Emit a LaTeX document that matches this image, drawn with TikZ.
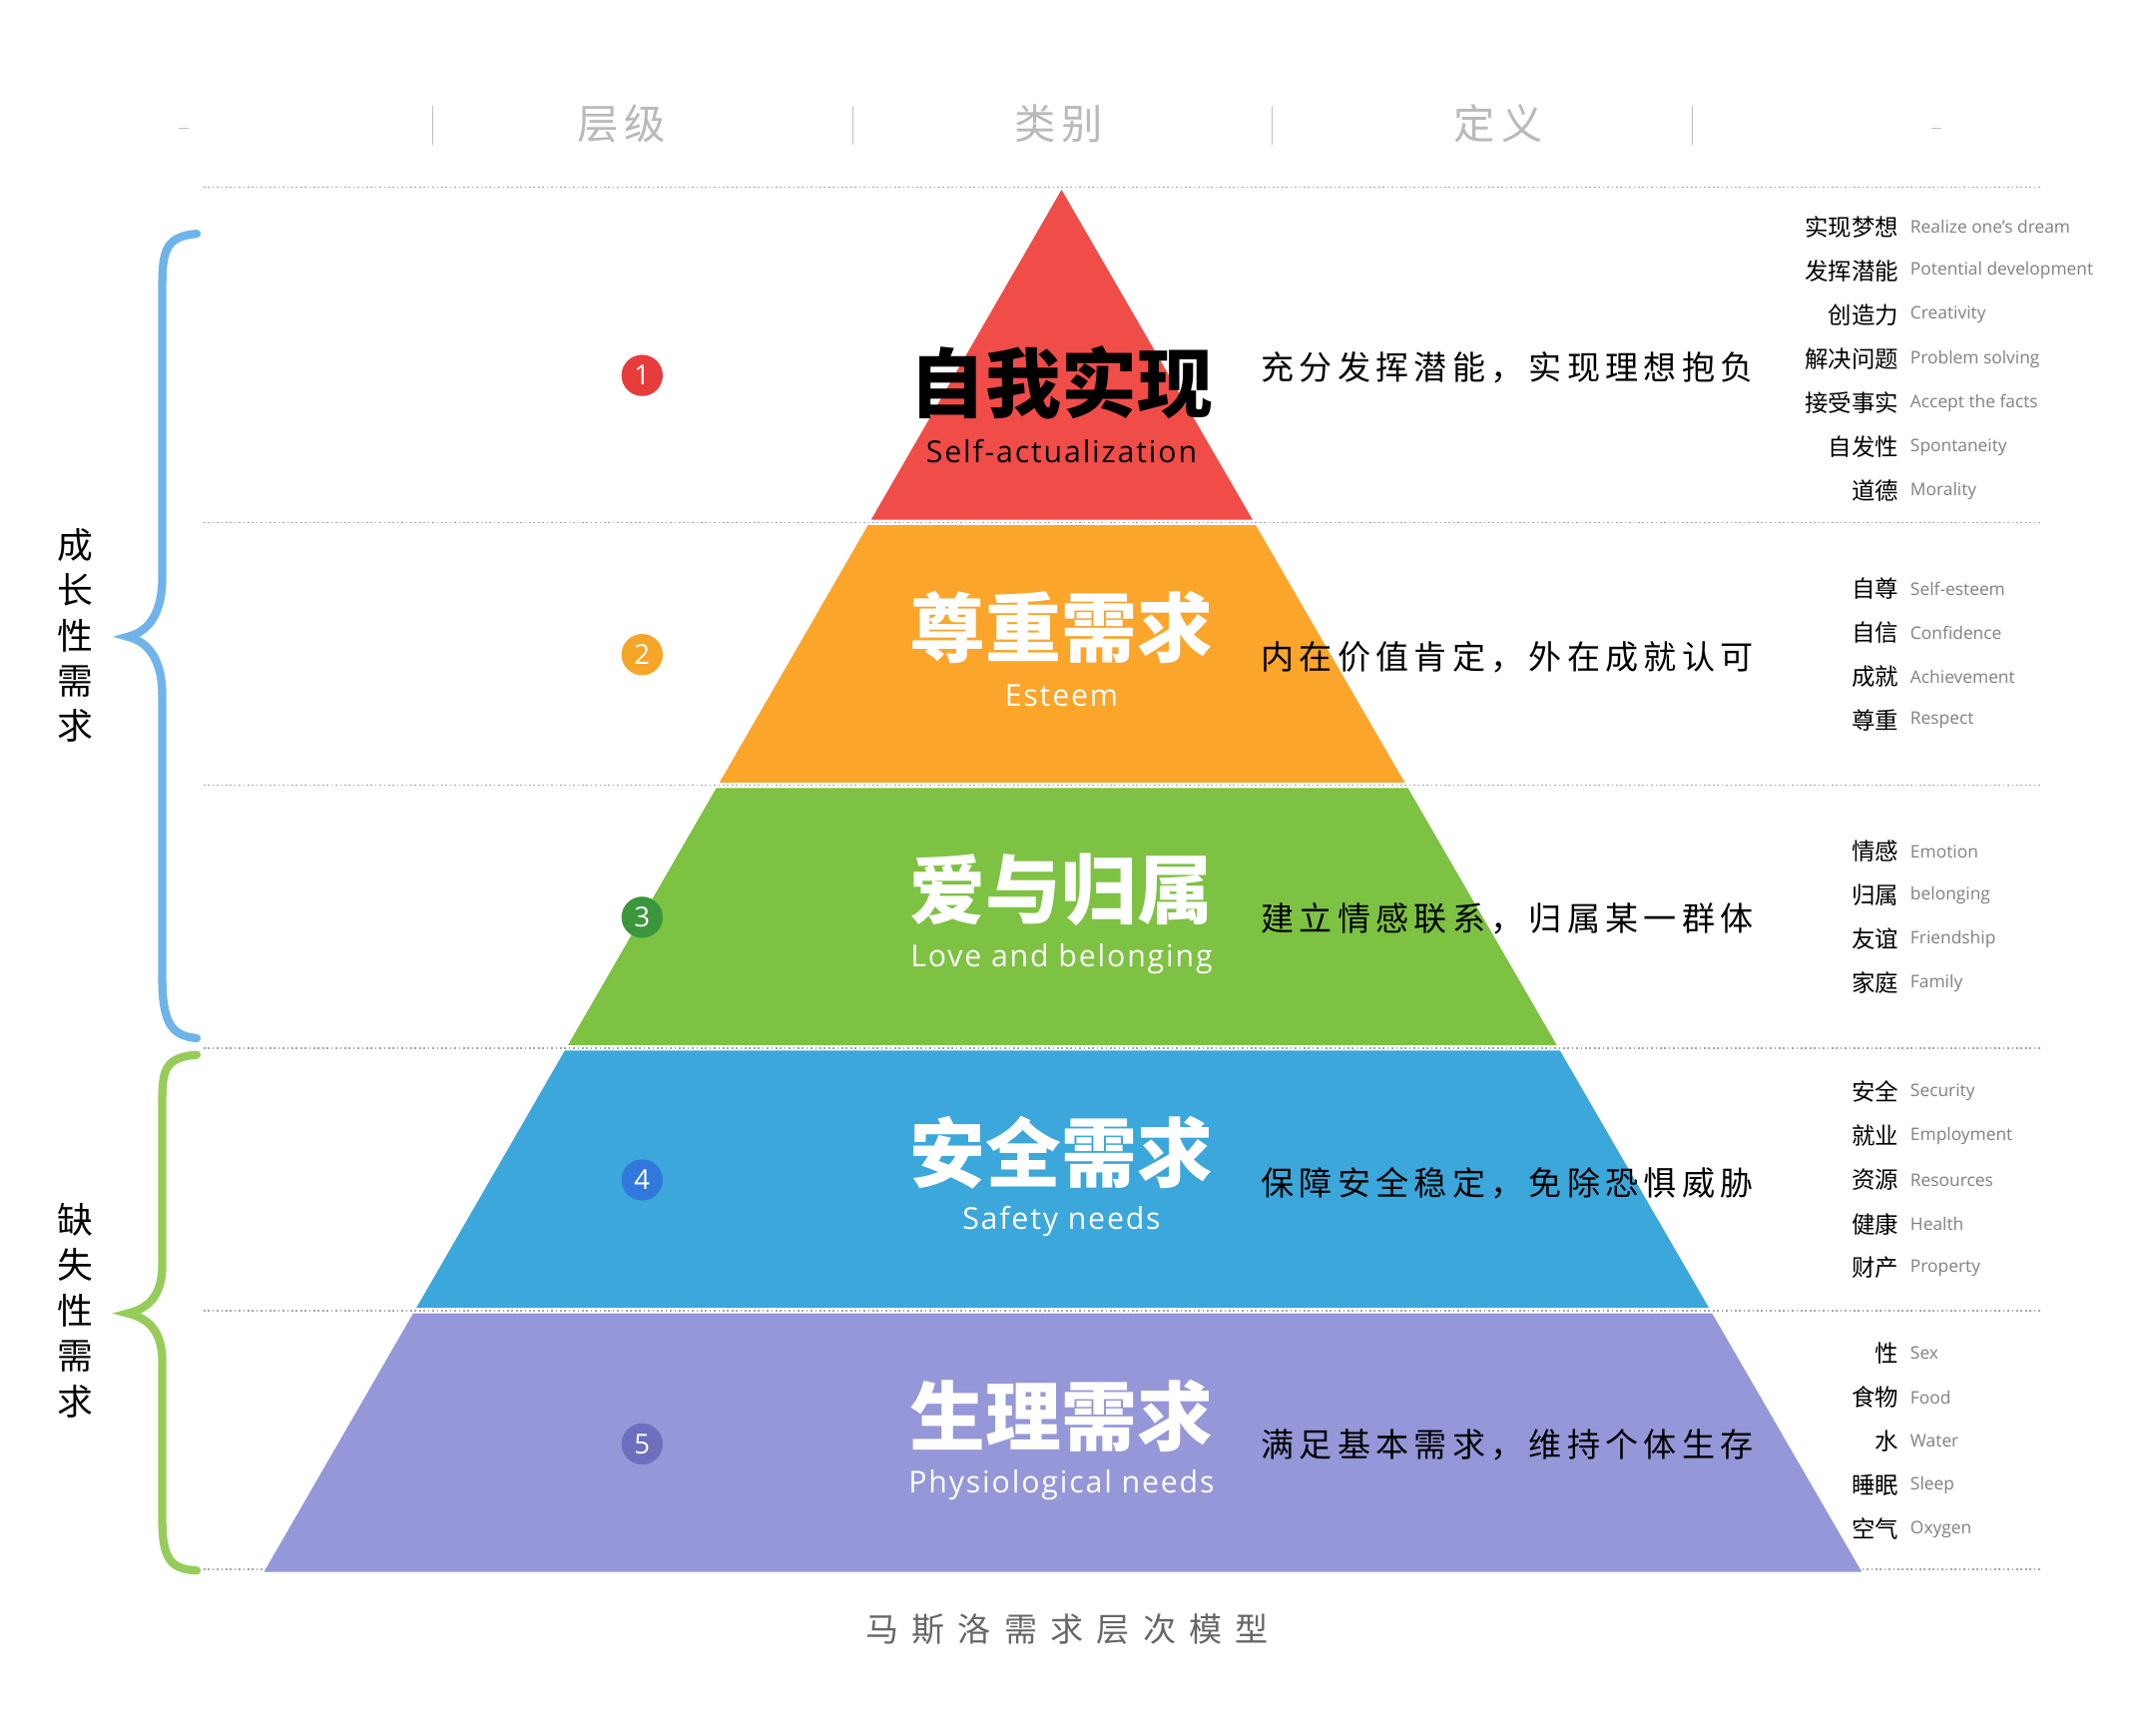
\documentclass[tikz,border=0pt]{standalone}
\usepackage{fontspec}
\setmainfont{Noto Sans CJK SC}
\setsansfont{Open Sans}
\newfontfamily\cjk{Noto Sans CJK SC}
\newfontfamily\cjkls[LetterSpace=16]{Noto Sans CJK SC}
\newfontfamily\cjkwide[LetterSpace=40]{Noto Sans CJK SC}
\newfontfamily\sfls[LetterSpace=6]{Open Sans}
\begin{document}
\begin{tikzpicture}[x=0.5pt,y=-0.5pt,
  dotl/.style={densely dotted,gray!70,line width=0.6pt},
  num/.style={circle,minimum size=15pt,inner sep=0pt,text=white,font=\sffamily\fontsize{10}{10}\selectfont},
  ttl/.style={font=\cjk\bfseries\fontsize{27.5}{27.5}\selectfont},
  sub/.style={font=\sfls\fontsize{11}{11}\selectfont},
  defn/.style={anchor=west,font=\cjkls\fontsize{12}{12}\selectfont},
  lc/.style={anchor=east,font=\cjk\fontsize{8.5}{9}\selectfont,inner sep=1pt},
  le/.style={anchor=west,font=\sffamily\fontsize{6.3}{7}\selectfont,text=gray,inner sep=1pt},
  hd/.style={font=\cjkls\fontsize{15}{15}\selectfont,text=gray!55}]
\fill[white] (0,0) rectangle (1568,1260);
\useasboundingbox (0,0) rectangle (1568,1260);
% header
\node[hd] (h1) at (452,90) {层级};
\node[hd] (h2) at (770,90) {类别};
\node[hd] (h3) at (1090,90) {定义};
\foreach \x in {315,620,925,1231} \draw[gray!50] (\x,77) -- (\x,105);
\draw[gray!50] (130,93) -- (137,93);
\draw[gray!50] (1405,93) -- (1412,93);
\foreach \y in {136,380,571,762,953,1141} \draw[dotl] (148,\y) -- (1484,\y);
% pyramid bands
\def\L#1{772-0.5771*(#1-138)}
\def\R#1{772+0.5791*(#1-138)}
\fill[fill={rgb,255:red,240;green,76;blue,72}] (772,138) -- ({\R{378}},378) -- ({\L{378}},378) -- cycle;
\fill[fill={rgb,255:red,251;green,165;blue,42}] ({\L{382}},382) -- ({\R{382}},382) -- ({\R{569}},569) -- ({\L{569}},569) -- cycle;
\fill[fill={rgb,255:red,125;green,194;blue,66}] ({\L{573}},573) -- ({\R{573}},573) -- ({\R{760}},760) -- ({\L{760}},760) -- cycle;
\fill[fill={rgb,255:red,59;green,167;blue,218}] ({\L{764}},764) -- ({\R{764}},764) -- ({\R{951}},951) -- ({\L{951}},951) -- cycle;
\fill[fill={rgb,255:red,149;green,151;blue,216}] ({\L{955}},955) -- ({\R{955}},955) -- ({\R{1143}},1143) -- ({\L{1143}},1143) -- cycle;
% numbers
\node[num,fill={rgb,255:red,230;green,60;blue,60}] (n1) at (467,273) {1};
\node[num,fill={rgb,255:red,245;green,165;blue,40}] (n2) at (467,476) {2};
\node[num,fill={rgb,255:red,60;green,150;blue,60}] (n3) at (467,667) {3};
\node[num,fill={rgb,255:red,50;green,120;blue,220}] (n4) at (467,858) {4};
\node[num,fill={rgb,255:red,110;green,110;blue,190}] (n5) at (467,1050) {5};
% titles
\node[ttl,text=black] (t1) at (772,278) {自我实现};
\node[sub,text=black] (s1) at (772,328) {Self-actualization};
\node[ttl,text=white] (t2) at (772,456) {尊重需求};
\node[sub,text=white] (s2) at (772,506) {Esteem};
\node[ttl,text=white] (t3) at (772,647) {爱与归属};
\node[sub,text=white] (s3) at (772,697) {Love and belonging};
\node[ttl,text=white] (t4) at (772,838) {安全需求};
\node[sub,text=white] (s4) at (772,888) {Safety needs};
\node[ttl,text=white] (t5) at (772,1030) {生理需求};
\node[sub,text=white] (s5) at (772,1080) {Physiological needs};
% definitions
\node[defn] (d1) at (910,267) {充分发挥潜能，实现理想抱负};
\node[defn] (d2) at (910,478) {内在价值肯定，外在成就认可};
\node[defn] (d3) at (910,668) {建立情感联系，归属某一群体};
\node[defn] (d4) at (910,860) {保障安全稳定，免除恐惧威胁};
\node[defn] (d5) at (910,1051) {满足基本需求，维持个体生存};
% right lists
\foreach \y/\c/\e [count=\i] in {165/实现梦想/Realize one's dream,197/发挥潜能/Potential development,229/创造力/Creativity,261/解决问题/Problem solving,293/接受事实/Accept the facts,325/自发性/Spontaneity,357/道德/Morality,
428/自尊/Self-esteem,460/自信/Confidence,492/成就/Achievement,524/尊重/Respect,
619/情感/Emotion,651/归属/belonging,683/友谊/Friendship,715/家庭/Family,
794/安全/Security,826/就业/Employment,858/资源/Resources,890/健康/Health,922/财产/Property,
984/性/Sex,1016/食物/Food,1048/水/Water,1080/睡眠/Sleep,1112/空气/Oxygen}{
  \node[lc] (c\i) at (1383,\y) {\c};
  \node[le] (e\i) at (1387,\y) {\e};
}
% braces
\draw[line width=3pt,color={rgb,255:red,110;green,180;blue,235},line cap=round]
  (143,170) .. controls (118,172) and (118,185) .. (118,215) -- (118,420)
  .. controls (118,450) and (105,460) .. (93,463)
  .. controls (105,466) and (118,476) .. (118,506) -- (118,710)
  .. controls (118,745) and (125,753) .. (143,755);
\draw[line width=3pt,color={rgb,255:red,150;green,205;blue,90},line cap=round]
  (143,767) .. controls (118,769) and (118,780) .. (118,805) -- (118,920)
  .. controls (118,945) and (105,952) .. (93,955)
  .. controls (105,958) and (118,965) .. (118,990) -- (118,1105)
  .. controls (118,1135) and (125,1141) .. (143,1142);
\node[font=\cjk\fontsize{13}{16.5}\selectfont,align=center] (g1) at (55,462) {成\\长\\性\\需\\求};
\node[font=\cjk\fontsize{13}{16.5}\selectfont,align=center] (g2) at (55,953) {缺\\失\\性\\需\\求};
\node[font=\cjkwide\fontsize{12}{12}\selectfont,text=gray!80!black] (bt) at (776,1185) {马斯洛需求层次模型};
\end{tikzpicture}
\end{document}
